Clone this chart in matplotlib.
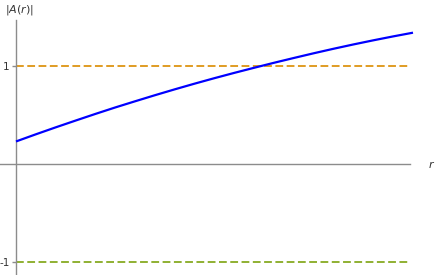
import matplotlib
matplotlib.use("Agg")
import matplotlib.pyplot as plt

# curve |A(r)|
r = [0.0, 0.05, 0.1, 0.15, 0.2, 0.25, 0.3, 0.35, 0.4, 0.45, 0.5,
     0.55, 0.6, 0.65, 0.7, 0.75, 0.8, 0.85, 0.9, 0.95, 1.0]
A = [0.23, 0.303, 0.374, 0.443, 0.511, 0.577, 0.640, 0.702, 0.762, 0.820, 0.876,
     0.930, 0.982, 1.033, 1.082, 1.130, 1.176, 1.220, 1.262, 1.302, 1.34]
r_lines = [0.0, 0.987]
upper = [1, 1]
lower = [-1, -1]
yticks = [1, -1]
ytick_labels = ["1", "-1"]

plt.rcParams['mathtext.fontset'] = 'dejavusans'

fig = plt.figure(figsize=(4.36, 2.75), dpi=100)
ax = fig.add_axes([0, 0, 1, 1])

ax.plot(r, A, color="#0000ff", lw=1.6, solid_capstyle="butt", zorder=3)
ax.plot(r_lines, upper, color="#e09c24", lw=1.4, dashes=(4, 1.8))
ax.plot(r_lines, lower, color="#8fb032", lw=1.4, dashes=(4, 1.8))

ax.set_xlim(-16 / 397, 420 / 397)
ax.set_ylim(-111 / 98, 164 / 98)

for s in ["top", "right"]:
    ax.spines[s].set_visible(False)
ax.spines["left"].set_position(("data", 0))
ax.spines["bottom"].set_position(("data", 0))
ax.spines["left"].set_bounds(-1.133, 1.469)
ax.spines["bottom"].set_bounds(-0.04, 0.992)
for s in ["left", "bottom"]:
    ax.spines[s].set_color("#8c8c8c")
    ax.spines[s].set_linewidth(1.0)

ax.set_xticks([])
ax.set_yticks(yticks)
ax.set_yticklabels(ytick_labels)
ax.tick_params(axis="y", direction="out", length=3, width=1, color="#8c8c8c",
               labelsize=7.5, labelcolor="#333333", pad=1.5)

ax.text(-11 / 397, 1.57, r"$|A(r)|$", fontsize=8,
        color="#333333", ha="left", va="center")
ax.text(1.046, 0, r"$r$", fontsize=8, color="#333333", ha="center", va="center")

fig.savefig("out.png", dpi=100)
